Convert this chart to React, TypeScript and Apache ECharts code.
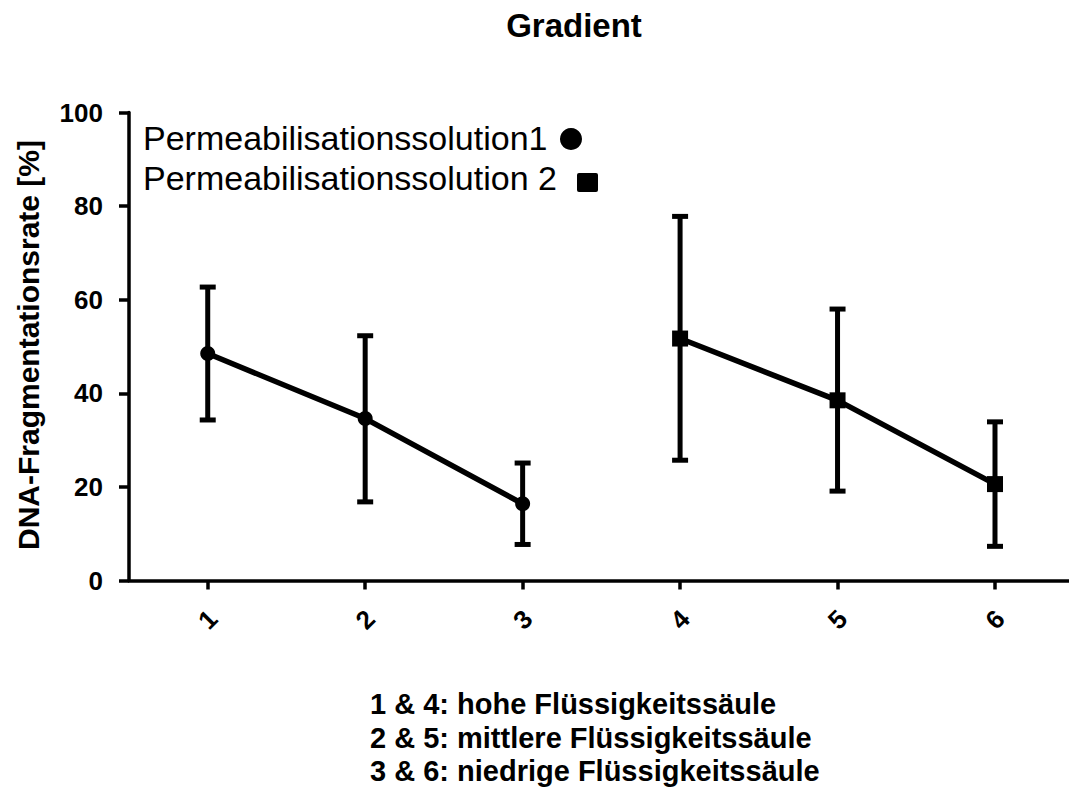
import React, { useEffect, useRef } from "react";
import * as echarts from "echarts";

const FONT = "'Liberation Sans', Arial, sans-serif";

const titleText = "Gradient";
const yAxisTitle = "DNA-Fragmentationsrate [%]";
const xTicks = [1, 2, 3, 4, 5, 6];
const yTicks = [0, 20, 40, 60, 80, 100];

const series1Name = "Permeabilisationssolution1";
const series2Name = "Permeabilisationssolution 2";

const series1X = [1, 2, 3];
const series1Mean = [48.5, 34.6, 16.4];
const series1Low = [34.3, 16.8, 7.7];
const series1High = [62.7, 52.3, 25.1];

const series2X = [4, 5, 6];
const series2Mean = [51.7, 38.5, 20.6];
const series2Low = [25.7, 19.1, 7.3];
const series2High = [77.8, 58.0, 33.9];

const footnotes = [
  "1 & 4: hohe Flüssigkeitssäule",
  "2 & 5: mittlere Flüssigkeitssäule",
  "3 & 6: niedrige Flüssigkeitssäule",
];

function errorRender(params: any, api: any) {
  const x = api.value(0);
  const lo = api.value(1);
  const hi = api.value(2);
  const pHi = api.coord([x, hi]);
  const pLo = api.coord([x, lo]);
  const w = 8;
  const st = { stroke: "#000", lineWidth: 5 };
  return {
    type: "group",
    children: [
      { type: "line", shape: { x1: pHi[0], y1: pHi[1], x2: pLo[0], y2: pLo[1] }, style: st },
      { type: "line", shape: { x1: pHi[0] - w, y1: pHi[1], x2: pHi[0] + w, y2: pHi[1] }, style: st },
      { type: "line", shape: { x1: pLo[0] - w, y1: pLo[1], x2: pLo[0] + w, y2: pLo[1] }, style: st },
    ],
  };
}

export default function App() {
  const ref = useRef<HTMLDivElement>(null);
  useEffect(() => {
    if (!ref.current) return;
    const chart = echarts.init(ref.current, undefined, { renderer: "svg" });
    const err1 = series1X.map((x, i) => [x, series1Low[i], series1High[i]]);
    const err2 = series2X.map((x, i) => [x, series2Low[i], series2High[i]]);
    const line1 = series1X.map((x, i) => [x, series1Mean[i]]);
    const line2 = series2X.map((x, i) => [x, series2Mean[i]]);

    chart.setOption({
      animation: false,
      backgroundColor: "#fff",
      textStyle: { fontFamily: FONT },
      grid: { left: 129, right: 0, top: 112.5, bottom: 206.5, containLabel: false },
      xAxis: {
        type: "value",
        min: 0.5,
        max: 6.47,
        splitLine: { show: false },
        axisLine: { show: true, onZero: false, lineStyle: { color: "#000", width: 3.5 } },
        axisTick: { show: true, customValues: xTicks, length: 9, lineStyle: { color: "#000", width: 3.5 } },
        axisLabel: {
          customValues: xTicks,
          rotate: 45,
          align: "center",
          verticalAlign: "middle",
          margin: 39,
          color: "#000",
          fontSize: 26,
          fontWeight: "bold",
          fontFamily: FONT,
          formatter: (v: number) => String(v),
        },
      },
      yAxis: {
        type: "value",
        min: 0,
        max: 100,
        interval: 20,
        splitLine: { show: false },
        axisLine: { show: true, lineStyle: { color: "#000", width: 3.5 } },
        axisTick: { show: true, length: 10, lineStyle: { color: "#000", width: 3.5 } },
        axisLabel: {
          margin: 26,
          color: "#000",
          fontSize: 26,
          fontWeight: "bold",
          fontFamily: FONT,
          formatter: (v: number) => (yTicks.includes(v) ? String(v) : ""),
        },
      },
      series: [
        { type: "custom", name: series1Name + " err", renderItem: errorRender, data: err1, z: 2 },
        { type: "custom", name: series2Name + " err", renderItem: errorRender, data: err2, z: 2 },
        {
          type: "line",
          name: series1Name,
          data: line1,
          symbol: "circle",
          symbolSize: 15,
          lineStyle: { color: "#000", width: 5.5 },
          itemStyle: { color: "#000" },
          z: 3,
        },
        {
          type: "line",
          name: series2Name,
          data: line2,
          symbol: "rect",
          symbolSize: 16,
          lineStyle: { color: "#000", width: 5.5 },
          itemStyle: { color: "#000" },
          z: 3,
        },
      ],
      graphic: [
        {
          type: "text",
          x: 574,
          y: 25,
          style: { text: titleText, font: `bold 33px ${FONT}`, fill: "#000", textAlign: "center", textVerticalAlign: "middle" },
        },
        {
          type: "text",
          x: 28,
          y: 345,
          rotation: Math.PI / 2,
          style: { text: yAxisTitle, font: `bold 30px ${FONT}`, fill: "#000", textAlign: "center", textVerticalAlign: "middle" },
        },
        {
          type: "text",
          x: 143,
          y: 138,
          style: { text: series1Name, font: `34px ${FONT}`, fill: "#000", textAlign: "left", textVerticalAlign: "middle" },
        },
        { type: "circle", shape: { cx: 571, cy: 139, r: 11 }, style: { fill: "#000" } },
        {
          type: "text",
          x: 143,
          y: 178,
          style: { text: series2Name, font: `34px ${FONT}`, fill: "#000", textAlign: "left", textVerticalAlign: "middle" },
        },
        { type: "rect", shape: { x: 577, y: 173, width: 21, height: 19, r: 2 }, style: { fill: "#000" } },
        ...footnotes.map((t, i) => ({
          type: "text",
          x: 370,
          y: 704 + i * 33.5,
          style: { text: t, font: `bold 29px ${FONT}`, fill: "#000", textAlign: "left", textVerticalAlign: "middle" },
        })),
      ],
    });
    return () => chart.dispose();
  }, []);
  return (
    <div
      ref={ref}
      style={{ position: "fixed", left: 0, top: 0, width: 1069, height: 787, background: "#fff" }}
    />
  );
}
